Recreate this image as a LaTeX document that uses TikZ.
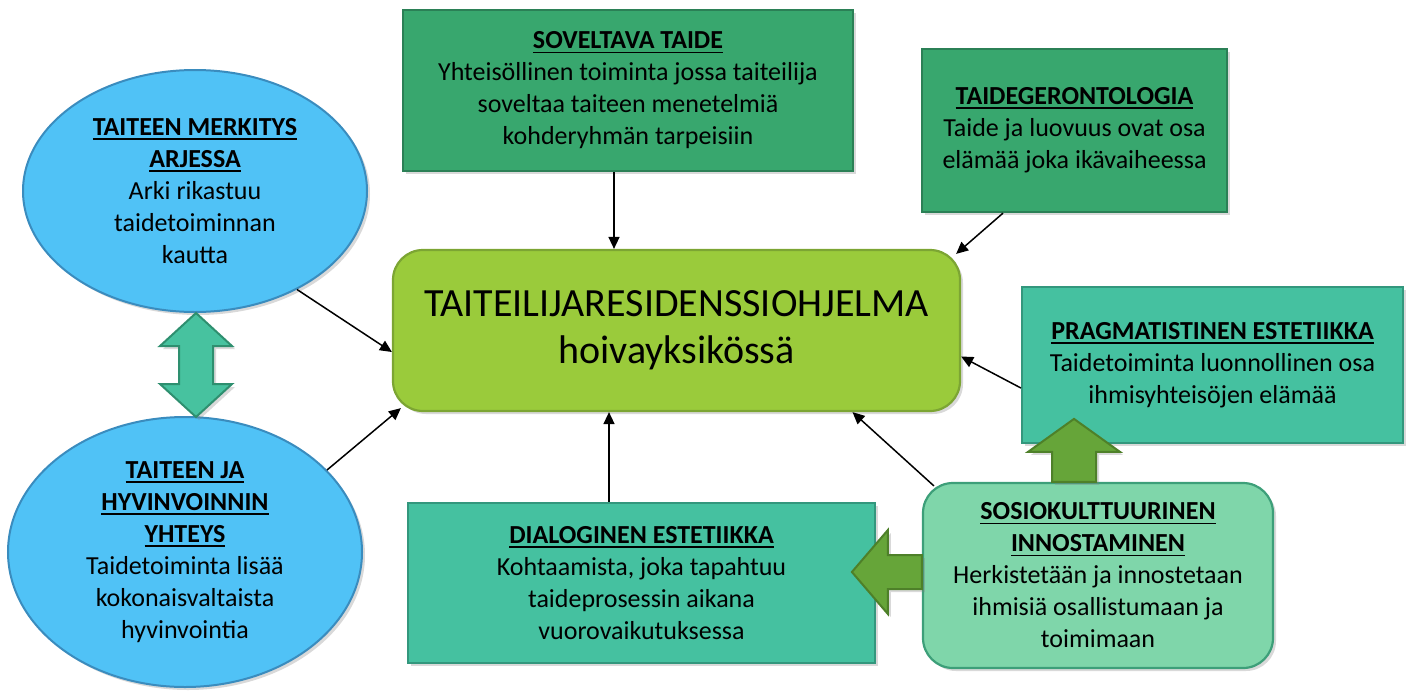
\documentclass[tikz,border=0pt]{standalone}
\usepackage{fontspec}
\setmainfont{Carlito}
\usetikzlibrary{arrows.meta,shapes.geometric,shadows}

\definecolor{sininen}{HTML}{50C2F6}
\definecolor{sininenReuna}{HTML}{3A8CBE}
\definecolor{vihrea}{HTML}{38A76E}
\definecolor{vihreaReuna}{HTML}{2B8056}
\definecolor{turkoosi}{HTML}{45C1A0}
\definecolor{turkoosiReuna}{HTML}{33977D}
\definecolor{vaalea}{HTML}{7FD6AA}
\definecolor{vaaleaReuna}{HTML}{3D9F79}
\definecolor{keltavihrea}{HTML}{9ACB3B}
\definecolor{keltavihreaReuna}{HTML}{7CA533}
\definecolor{nuoli}{HTML}{66A539}
\definecolor{nuoliReuna}{HTML}{4E8029}
\definecolor{tupla}{HTML}{47C29F}
\definecolor{tuplaReuna}{HTML}{2E8F6F}

% lihavoitu ja alleviivattu otsikko
\newcommand{\otsikko}[1]{\leavevmode\setbox0\hbox{\textbf{#1}}\vtop{\box0\kern2.5pt\hrule height 1.8pt}}

\begin{document}
\begin{tikzpicture}[x=1pt,y=-1pt,
        varjo/.style={drop shadow={opacity=0.3,shadow xshift=3pt,shadow yshift=-3pt}},
        teksti/.style={align=center, text=black, font=\fontsize{26}{32}\selectfont},
        pallo/.style={teksti, ellipse, inner sep=0pt, fill=sininen, draw=sininenReuna, line width=2pt, varjo},
        laatikko/.style={teksti, rectangle, inner sep=0pt, line width=2.2pt, varjo},
        keski/.style={laatikko, rounded corners=30pt, fill=keltavihrea, draw=keltavihreaReuna,
            font=\fontsize{40}{47}\selectfont},
        yhteys/.style={-{Triangle[length=12pt,width=11pt]}, line width=1.5pt, black},
        paksunuoli/.style={fill=nuoli, draw=nuoliReuna, line width=2pt, varjo},
        tuplanuoli/.style={fill=tupla, draw=tuplaReuna, line width=2pt, varjo},
    ]
    \useasboundingbox (0,0) rectangle (1410,691);

    % vasen puoli
    \node[pallo, minimum width=344, minimum height=242] (arki) at (195,191)
        {\otsikko{TAITEEN MERKITYS}\\\otsikko{ARJESSA}\\Arki rikastuu\\taidetoiminnan\\kautta};
    \node[pallo, minimum width=354, minimum height=270] (hyvin) at (185,552)
        {\otsikko{TAITEEN JA}\\\otsikko{HYVINVOINNIN}\\\otsikko{YHTEYS}\\Taidetoiminta lisää\\kokonaisvaltaista\\hyvinvointia};

    % keskus
    \node[keski, minimum width=567, minimum height=161] (resid) at (676.5,330.5)
        {TAITEILIJARESIDENSSIOHJELMA\\hoivayksikössä};

    % laatikot
    \node[laatikko, fill=vihrea, draw=vihreaReuna, minimum width=450, minimum height=161] (soveltava) at (628,90.5)
        {\otsikko{SOVELTAVA TAIDE}\\Yhteisöllinen toiminta jossa taiteilija\\soveltaa taiteen menetelmiä\\kohderyhmän tarpeisiin};
    \node[laatikko, fill=vihrea, draw=vihreaReuna, minimum width=305, minimum height=163] (geronto) at (1074.5,130.5)
        {\otsikko{TAIDEGERONTOLOGIA}\\Taide ja luovuus ovat osa\\elämää joka ikävaiheessa};
    \node[laatikko, fill=turkoosi, draw=turkoosiReuna, minimum width=381, minimum height=156] (pragma) at (1212.5,365)
        {\otsikko{PRAGMATISTINEN ESTETIIKKA}\\Taidetoiminta luonnollinen osa\\ihmisyhteisöjen elämää};
    \node[laatikko, fill=turkoosi, draw=turkoosiReuna, minimum width=467, minimum height=160] (dialogi) at (641.5,583)
        {\otsikko{DIALOGINEN ESTETIIKKA}\\Kohtaamista, joka tapahtuu\\taideprosessin aikana\\vuorovaikutuksessa};
    \node[laatikko, rounded corners=30pt, fill=vaalea, draw=vaaleaReuna, minimum width=350, minimum height=185] (sosio) at (1098,575.5)
        {\otsikko{SOSIOKULTTUURINEN}\\\otsikko{INNOSTAMINEN}\\Herkistetään ja innostetaan\\ihmisiä osallistumaan ja\\toimimaan};

    % nuolet keskukseen
    \draw[yhteys] ([xshift=-14pt]soveltava.south) -- ([xshift=-62.5pt]resid.north);
    \draw[yhteys] ([xshift=-71.5pt]geronto.south) -- ([shift={(-5pt,-5pt)}]resid.north east);
    \draw[yhteys] ([yshift=-23pt]pragma.west) -- ([yshift=-26pt]resid.east);
    \draw[yhteys] ([shift={(12pt,-4pt)}]sosio.north west) -- ([xshift=176pt]resid.south);
    \draw[yhteys] ([xshift=-32.5pt]dialogi.north) -- ([xshift=-67.5pt]resid.south);
    \draw[yhteys] (arki.-44) -- ([yshift=-21.5pt]resid.west);
    \draw[yhteys] (hyvin.30) -- ([shift={(9pt,4pt)}]resid.south west);

    % paksut nuolet
    \coordinate (tuplaYla) at ([xshift=1pt]arki.south);
    \coordinate (vasenKanta) at ([yshift=3.5pt]sosio.west);
    \coordinate (ylosKanta) at ([xshift=-24pt]sosio.north);
    \begin{scope}[shift={(tuplaYla)}]
        \draw[tuplanuoli] (0,0) -- (36,33) -- (17,33) -- (17,71) -- (36,71) -- (0,104)
            -- (-36,71) -- (-17,71) -- (-17,33) -- (-36,33) -- cycle;
    \end{scope}
    \begin{scope}[shift={(vasenKanta)}]
        \draw[paksunuoli] (0,-17) -- (-34,-17) -- (-34,-42) -- (-70,0) -- (-34,42) -- (-34,17) -- (0,17) -- cycle;
    \end{scope}
    \begin{scope}[shift={(ylosKanta)}]
        \draw[paksunuoli] (-22,0) -- (-22,-30) -- (-46,-30) -- (0,-63) -- (46,-30) -- (22,-30) -- (22,0) -- cycle;
    \end{scope}
\end{tikzpicture}
\end{document}
